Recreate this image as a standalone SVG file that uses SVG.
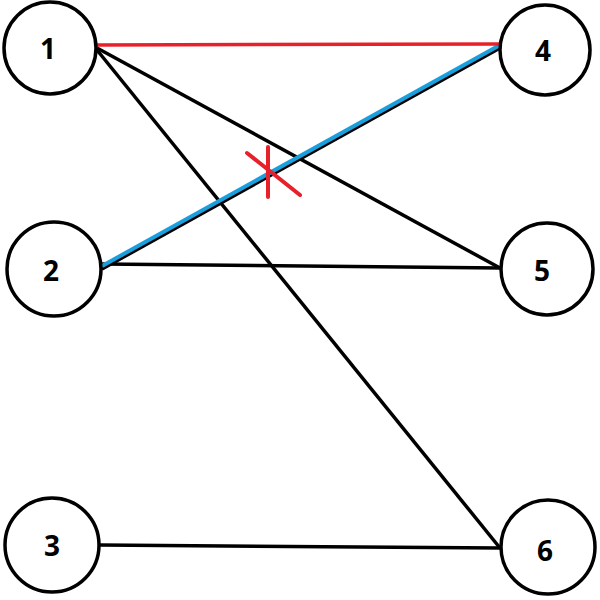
<svg xmlns="http://www.w3.org/2000/svg" width="600" height="600" viewBox="0 0 600 600">
<style>
.node circle{fill:#fff;stroke:#000;stroke-width:3.5}
.node text{font-family:"Open Sans","DejaVu Sans",sans-serif;font-weight:bold;font-size:28px;fill:#000;text-anchor:middle;dominant-baseline:central}
.edge{stroke:#000;stroke-width:3.5;fill:none}
</style>
<rect width="600" height="600" fill="#fff"/>
<g id="connectors">
<line class="edge" x1="97" y1="48" x2="500" y2="268"/>
<line class="edge" x1="97" y1="50" x2="500" y2="548"/>
<line class="edge" x1="102" y1="264" x2="500" y2="268"/>
<line class="edge" x1="100" y1="545" x2="500" y2="548"/>
<line class="edge" x1="102" y1="269" x2="500" y2="48"/>
<line stroke="#1a9fdc" stroke-width="4" x1="102" y1="266" x2="500" y2="45"/>
<line stroke="#e8202a" stroke-width="3.5" x1="95" y1="45" x2="500" y2="44"/>
<g stroke="#e8202a" stroke-width="4" stroke-linecap="round">
<line x1="268" y1="147" x2="268" y2="197"/>
<line x1="247" y1="153" x2="300" y2="195"/>
</g>
</g>
<g id="node1" class="node"><circle cx="50" cy="48" r="46"/><text x="48" y="48">1</text></g>
<g id="node2" class="node"><circle cx="54" cy="269" r="47"/><text x="51" y="270">2</text></g>
<g id="node3" class="node"><circle cx="52" cy="545" r="47"/><text x="52" y="545">3</text></g>
<g id="node4" class="node"><circle cx="545" cy="50" r="45"/><text x="543" y="50">4</text></g>
<g id="node5" class="node"><circle cx="547" cy="269" r="46"/><text x="542" y="270">5</text></g>
<g id="node6" class="node"><circle cx="548" cy="547" r="47"/><text x="545" y="550">6</text></g>
</svg>
